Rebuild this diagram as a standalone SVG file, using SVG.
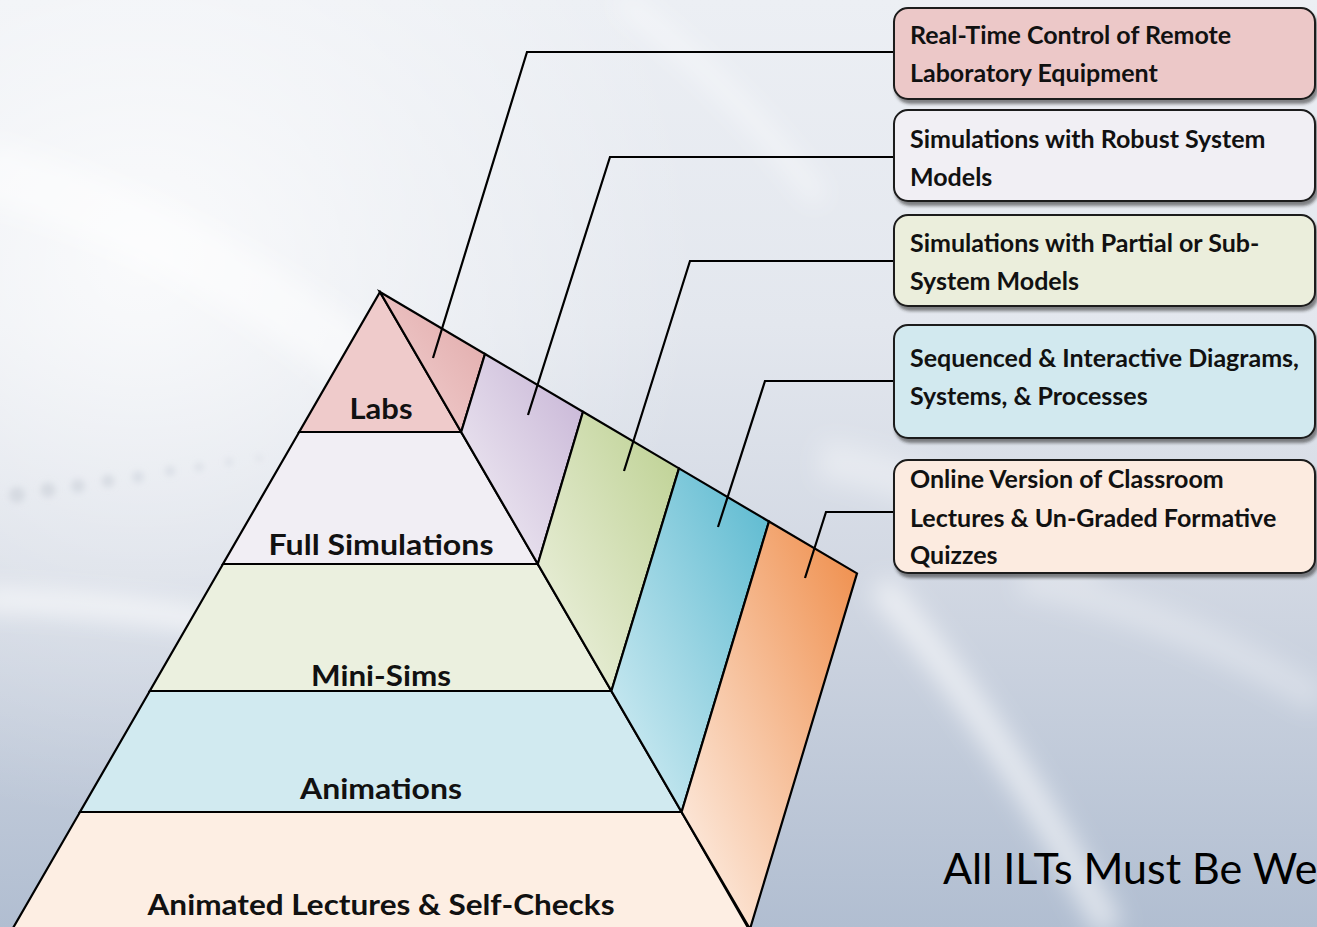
<svg xmlns="http://www.w3.org/2000/svg" width="1317" height="927" viewBox="0 0 1317 927">
  <defs>
    <style>
      .tier { stroke: #000; stroke-width: 2.2; stroke-linejoin: miter; }
      .side { stroke: #000; stroke-width: 2.2; stroke-linejoin: miter; }
      .tier-label { font-family: Lato, "Liberation Sans", sans-serif; font-weight: 700; font-size: 29px; fill: #111; text-anchor: middle; }
      .box { stroke: #1a1a1a; stroke-width: 2; filter: url(#boxShadow); }
      .box-text { font-family: Lato, "Liberation Sans", sans-serif; font-weight: 700; font-size: 25px; fill: #111; }
      .connector { fill: none; stroke: #000; stroke-width: 2.2; stroke-linejoin: miter; }
      .footer { font-family: Lato, "Liberation Sans", sans-serif; font-weight: 400; font-size: 43px; fill: #000; }
    </style>

    <!-- backdrop -->
    <linearGradient id="bgGrad" x1="0" y1="0" x2="0" y2="1">
      <stop offset="0" stop-color="#eceff4"/>
      <stop offset="0.35" stop-color="#e3e7ee"/>
      <stop offset="0.62" stop-color="#d2d8e3"/>
      <stop offset="1" stop-color="#b1bed1"/>
    </linearGradient>
    <radialGradient id="bgGlow" cx="140" cy="260" r="560" gradientUnits="userSpaceOnUse">
      <stop offset="0" stop-color="#ffffff" stop-opacity="0.8"/>
      <stop offset="0.6" stop-color="#ffffff" stop-opacity="0.3"/>
      <stop offset="1" stop-color="#ffffff" stop-opacity="0"/>
    </radialGradient>
    <filter id="soft" x="-20%" y="-20%" width="140%" height="140%">
      <feGaussianBlur stdDeviation="12"/>
    </filter>
    <filter id="softer" x="-50%" y="-50%" width="200%" height="200%">
      <feGaussianBlur stdDeviation="3"/>
    </filter>
    <filter id="boxShadow" x="-5%" y="-10%" width="110%" height="125%">
      <feDropShadow dx="2" dy="4" stdDeviation="1.5" flood-color="#2a2a2a" flood-opacity="0.55"/>
    </filter>

    <!-- side face shading: light at lower left, strong at upper right -->
    <linearGradient id="sideLabs" x1="0" y1="1" x2="1" y2="0">
      <stop offset="0" stop-color="#f3d3d3"/>
      <stop offset="1" stop-color="#e0a8a8"/>
    </linearGradient>
    <linearGradient id="sideFull" x1="0" y1="1" x2="1" y2="0">
      <stop offset="0" stop-color="#f3f0f6"/>
      <stop offset="1" stop-color="#c6b3d5"/>
    </linearGradient>
    <linearGradient id="sideMini" x1="0" y1="1" x2="1" y2="0">
      <stop offset="0" stop-color="#f0f3e4"/>
      <stop offset="1" stop-color="#bcd090"/>
    </linearGradient>
    <linearGradient id="sideAnim" x1="0" y1="1" x2="1" y2="0">
      <stop offset="0" stop-color="#d8eff5"/>
      <stop offset="1" stop-color="#58b8cf"/>
    </linearGradient>
    <linearGradient id="sideLect" x1="0" y1="1" x2="1" y2="0">
      <stop offset="0.05" stop-color="#fdeee4"/>
      <stop offset="1" stop-color="#ef8c48"/>
    </linearGradient>
  </defs>

  <!-- background -->
  <g id="background">
    <rect x="0" y="0" width="1317" height="927" fill="url(#bgGrad)"/>
    <rect x="0" y="0" width="1317" height="927" fill="url(#bgGlow)"/>
    <g filter="url(#soft)" fill="none" stroke="#ffffff">
      <path d="M -20 170 C 200 230 420 380 560 560" stroke-width="60" stroke-opacity="0.5"/>
      <path d="M -20 600 C 80 600 180 615 260 630" stroke-width="18" stroke-opacity="0.8"/>
      <path d="M 880 585 C 960 680 1040 800 1110 930" stroke-width="28" stroke-opacity="0.6"/>
      <path d="M 620 0 C 700 60 760 120 820 200" stroke-width="16" stroke-opacity="0.5"/>
      <path d="M 820 460 C 900 470 1000 520 1100 560" stroke-width="40" stroke-opacity="0.35"/>
      <path d="M 1020 580 C 1120 600 1220 640 1320 700" stroke-width="30" stroke-opacity="0.3"/>
    </g>
    <g fill="#c6ccd6" filter="url(#softer)">
      <circle cx="17" cy="495" r="8" fill-opacity="0.55"/>
      <circle cx="48" cy="490" r="7.5" fill-opacity="0.55"/>
      <circle cx="78" cy="486" r="7" fill-opacity="0.5"/>
      <circle cx="108" cy="481" r="6.5" fill-opacity="0.5"/>
      <circle cx="138" cy="477" r="6" fill-opacity="0.45"/>
      <circle cx="170" cy="471" r="5" fill-opacity="0.45"/>
      <circle cx="199" cy="467" r="4.5" fill-opacity="0.4"/>
      <circle cx="229" cy="462" r="4" fill-opacity="0.35"/>
      <circle cx="259" cy="458" r="3.5" fill-opacity="0.3"/>
    </g>
  </g>

  <!-- front faces of the pyramid, one per tier -->
  <g id="tier-labs">
    <polygon class="tier" fill="#efcbcb" points="380,292 461.2,432 299.2,432"/>
    <text class="tier-label" x="381" y="419" textLength="63" lengthAdjust="spacingAndGlyphs">Labs</text>
  </g>
  <g id="tier-full-simulations">
    <polygon class="tier" fill="#f1eef4" points="299.2,432 461.2,432 537.8,564 223,564"/>
    <text class="tier-label" x="381" y="555" textLength="225" lengthAdjust="spacingAndGlyphs">Full Simulations</text>
  </g>
  <g id="tier-mini-sims">
    <polygon class="tier" fill="#ebf0df" points="223,564 537.8,564 611.4,691 149.8,691"/>
    <text class="tier-label" x="381" y="686" textLength="140" lengthAdjust="spacingAndGlyphs">Mini-Sims</text>
  </g>
  <g id="tier-animations">
    <polygon class="tier" fill="#d1eaf0" points="149.8,691 611.4,691 681.6,812 80,812"/>
    <text class="tier-label" x="381" y="799" textLength="162" lengthAdjust="spacingAndGlyphs">Animations</text>
  </g>
  <g id="tier-lectures">
    <polygon class="tier" fill="#fdeee3" points="80,812 681.6,812 750.5,932 10.7,932"/>
    <text class="tier-label" x="381" y="915" textLength="467" lengthAdjust="spacingAndGlyphs">Animated Lectures &amp; Self-Checks</text>
  </g>

  <!-- side faces of the pyramid -->
  <g id="side-faces">
    <polygon class="side" fill="url(#sideLabs)" points="380,292 485,354 461.2,432"/>
    <polygon class="side" fill="url(#sideFull)" points="485,354 583,411.8 537.8,564 461.2,432"/>
    <polygon class="side" fill="url(#sideMini)" points="583,411.8 679,468.4 611.4,691 537.8,564"/>
    <polygon class="side" fill="url(#sideAnim)" points="679,468.4 769,521.5 681.6,812 611.4,691"/>
    <polygon class="side" fill="url(#sideLect)" points="769,521.5 857,573.4 750,929 681.6,812"/>
  </g>

  <!-- leader lines from the side faces to the description boxes -->
  <g id="connectors">
    <polyline class="connector" points="894,52 527,52 433,358"/>
    <polyline class="connector" points="894,157 610,157 528,415"/>
    <polyline class="connector" points="894,261 690,261 624,471"/>
    <polyline class="connector" points="894,381 765,381 718,527"/>
    <polyline class="connector" points="894,512 826,512 805,578"/>
  </g>

  <!-- description boxes -->
  <g id="box-labs">
    <rect class="box" x="894" y="8" width="421" height="91" rx="14" fill="#ecc8c8"/>
    <text class="box-text" x="910" y="44">Real-Time Control of Remote</text>
    <text class="box-text" x="910" y="82">Laboratory Equipment</text>
  </g>
  <g id="box-full-simulations">
    <rect class="box" x="894" y="110" width="421" height="91" rx="14" fill="#f1eff4"/>
    <text class="box-text" x="910" y="148">Simulations with Robust System</text>
    <text class="box-text" x="910" y="186">Models</text>
  </g>
  <g id="box-mini-sims">
    <rect class="box" x="894" y="215" width="421" height="91" rx="14" fill="#ebeedc"/>
    <text class="box-text" x="910" y="252">Simulations with Partial or Sub-</text>
    <text class="box-text" x="910" y="290">System Models</text>
  </g>
  <g id="box-animations">
    <rect class="box" x="894" y="325" width="421" height="113" rx="14" fill="#d2e9ef"/>
    <text class="box-text" x="910" y="367">Sequenced &amp; Interactive Diagrams,</text>
    <text class="box-text" x="910" y="405">Systems, &amp; Processes</text>
  </g>
  <g id="box-lectures">
    <rect class="box" x="894" y="460" width="421" height="113" rx="14" fill="#fcebe0"/>
    <text class="box-text" x="910" y="488">Online Version of Classroom</text>
    <text class="box-text" x="910" y="527">Lectures &amp; Un-Graded Formative</text>
    <text class="box-text" x="910" y="564">Quizzes</text>
  </g>

  <text class="footer" x="943" y="884">All ILTs Must Be We</text>
</svg>
